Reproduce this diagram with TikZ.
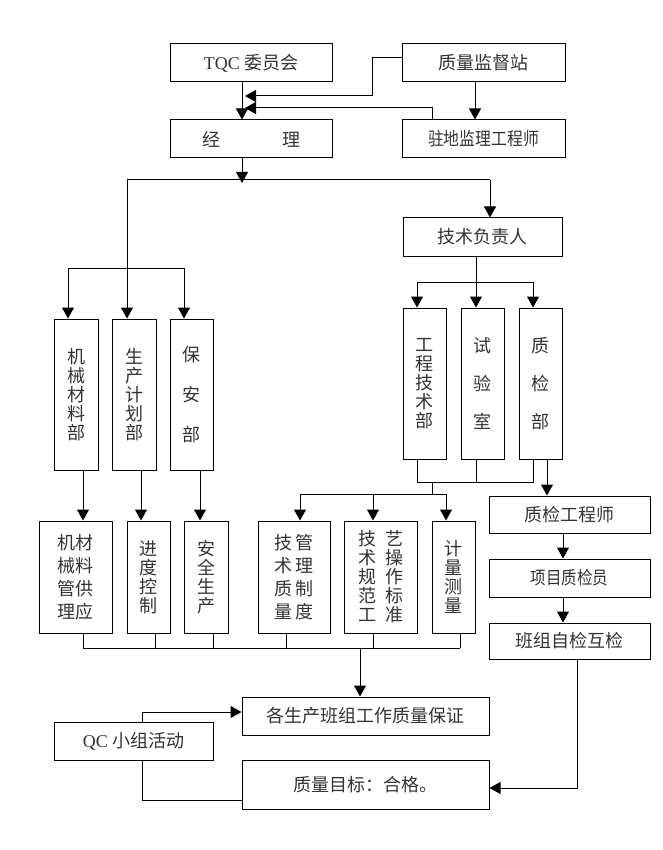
\documentclass[tikz,border=0pt]{standalone}
\usepackage{fontspec}
\setmainfont{Liberation Serif}
\newfontfamily\cjk{Noto Sans CJK SC}
\usetikzlibrary{arrows.meta,positioning,calc}

\begin{document}
\begin{tikzpicture}[x=1pt,y=-1pt,
    box/.style={shape=rectangle,draw=black,line width=1pt,inner sep=0pt,
        minimum height=38pt,text=black!80,font=\cjk\fontsize{18}{19}\selectfont},
    col/.style={box,align=center,minimum width=43pt,minimum height=151pt},
    colb/.style={box,align=center,minimum height=112pt},
    ln/.style={line width=1pt},
    arr/.style={line width=1pt,-{Triangle[width=12pt,length=11pt]}}]
    \useasboundingbox (0,0) rectangle (662,850);

    % top boxes
    \node[box,minimum width=162pt] (tqc) at (251,63) {{\rmfamily TQC} 委员会};
    \node[box,minimum width=163pt] (jdz) at (483.5,63) {质量监督站};
    \node[box,minimum width=162pt] (jl) at (251,139) {经\hspace{62pt}理};
    \node[box,minimum width=163pt] (zd) at (483.5,139) {\scalebox{0.88}[1]{驻地监理工程师}};
    \node[box,minimum width=159pt] (js) at (482.5,237) {技术负责人};

    % departments
    \node[col,minimum width=44pt] (jx) at (76,394.5) {机\\械\\材\\料\\部};
    \node[col,minimum width=44pt] (sc) at (134,394.5) {生\\产\\计\\划\\部};
    \node[col] (ba) at (191.5,394.5) {保\\[21pt]安\\[21pt]部};
    \node[col] (gc) at (424.5,383.5) {工\\程\\技\\术\\部};
    \node[col] (sy) at (482.5,383.5) {试\\[19pt]验\\[19pt]室};
    \node[col] (zj) at (540.5,383.5) {质\\[19pt]检\\[19pt]部};

    % second row
    \node[colb,minimum width=73pt] (jc) at (75.5,577) {机材\\[4pt]械料\\[4pt]管供\\[4pt]理应};
    \node[colb,minimum width=43pt] (jd) at (148.5,577) {进\\度\\控\\制};
    \node[colb,minimum width=44pt] (aq) at (206,577) {安\\全\\生\\产};
    \node[colb,minimum width=72pt] (jg) at (294,577) {技\,管\\[4pt]术\,理\\[4pt]质\,制\\[4pt]量\,度};
    \node[colb,minimum width=73pt] (gy) at (380.5,577)
        {技\hspace{9pt}艺\\术\hspace{9pt}操\\规\hspace{9pt}作\\范\hspace{9pt}标\\工\hspace{9pt}准};
    \node[colb,minimum width=43pt] (jlc) at (453.5,577) {计\\量\\测\\量};

    % inspection chain
    \node[box,minimum width=161pt,minimum height=37pt] (zg) at (569.5,514.5) {质检工程师};
    \node[box,minimum width=161pt] (xm) at (569.5,578) {\scalebox{0.86}[1]{项目质检员}};
    \node[box,minimum width=161pt,minimum height=36pt] (bz) at (569.5,641) {班组自检互检};

    % bottom
    \node[box,minimum width=247pt] (gs) at (365.5,716) {各生产班组工作质量保证};
    \node[box,minimum width=159pt] (qc) at (133.5,741) {{\rmfamily QC} 小组活动};
    \node[box,minimum width=247pt,minimum height=49pt] (mb) at (365.5,784.5) {质量目标：合格。};

    % junctions
    \coordinate (t1) at (242,82);
    \coordinate (in1) at (245,96);
    \coordinate (in2) at (245,108);
    \coordinate (b0) at (242,183);
    \coordinate (b1) at (127,180);
    \coordinate (b2) at (490,180);
    \coordinate (c1) at (68,268);
    \coordinate (c2) at (184,268);
    \coordinate (d1) at (417,282);
    \coordinate (d2) at (476,282);
    \coordinate (d3) at (533,282);
    \coordinate (e1) at (417,482);
    \coordinate (e2) at (476,482);
    \coordinate (e3) at (533,482);
    \coordinate (e4) at (432,482);
    \coordinate (f0) at (432,494);
    \coordinate (f1) at (300,494);
    \coordinate (f2) at (373,494);
    \coordinate (f3) at (446,494);
    \coordinate (g1) at (547,470);
    \coordinate (g2) at (563,540);
    \coordinate (g3) at (577,700);
    \coordinate (h1) at (83,470);
    \coordinate (h2) at (141,470);
    \coordinate (h3) at (200,470);
    \coordinate (k0) at (360,648);
    \coordinate (k1) at (83,648);
    \coordinate (k2) at (155,648);
    \coordinate (k3) at (213,648);
    \coordinate (k4) at (286,648);
    \coordinate (k5) at (373,648);
    \coordinate (k6) at (460,648);
    \coordinate (q1) at (142,712);
    \coordinate (q2) at (142,800);

    % top links
    \draw[arr] (t1) -- (t1 |- jl.north);
    \draw[arr] ([yshift=5pt]jdz.west) -- ++(-29,0) |- (in1);
    \draw[arr] ([xshift=-51.5pt]zd.north) |- (in2);
    \draw[arr] ([xshift=-8.5pt]jdz.south) -- ([xshift=-8.5pt]zd.north);
    \draw[arr] (jl.south -| b0) -- (b0);
    \draw[ln] (b1) -- (b2);
    \draw[arr] (b2) -- (b2 |- js.north);
    \draw[arr] (b1) -- (b1 |- sc.north);
    \draw[ln] (c1) -- (c2);
    \draw[arr] (c1) -- (c1 |- jx.north);
    \draw[arr] (c2) -- (c2 |- ba.north);

    % technical side
    \draw[ln] (js.south -| d2) -- (d2);
    \draw[ln] (d1) -- (d3);
    \foreach \c/\n in {d1/gc,d2/sy,d3/zj}
        \draw[arr] (\c) -- (\c |- \n.north);
    \draw[ln] (gc.south -| e1) -- (e1) -- (e3) -- (zj.south -| e3);
    \draw[ln] (sy.south -| e2) -- (e2);
    \draw[ln] (e4) -- (f0);
    \draw[ln] (f1) -- (f3);
    \foreach \c/\n in {f1/jg,f2/gy,f3/jlc}
        \draw[arr] (\c) -- (\c |- \n.north);

    % inspection chain
    \draw[arr] (zj.south -| g1) -- (zg.north -| g1);
    \draw[arr] (zg.south -| g2) -- (xm.north -| g2);
    \draw[arr] (xm.south -| g2) -- (bz.north -| g2);
    \draw[arr] (bz.south -| g3) |- ([yshift=-3.5pt]mb.east);

    % departments to tasks
    \foreach \c/\n in {h1/jc,h2/jd,h3/aq}
        \draw[arr] (\c) -- (\c |- \n.north);
    \foreach \c/\n in {k1/jc,k2/jd,k3/aq,k4/jg,k5/gy,k6/jlc}
        \draw[ln] (\c |- \n.south) -- (\c);
    \draw[ln] (k1) -- (k6);
    \draw[arr] (k0) -- (k0 |- gs.north);

    % QC group
    \draw[arr] (qc.north -| q1) -- (q1) -- (q1 -| gs.west);
    \draw[ln] (qc.south -| q2) -- (q2) -- (q2 -| mb.west);
\end{tikzpicture}
\end{document}
